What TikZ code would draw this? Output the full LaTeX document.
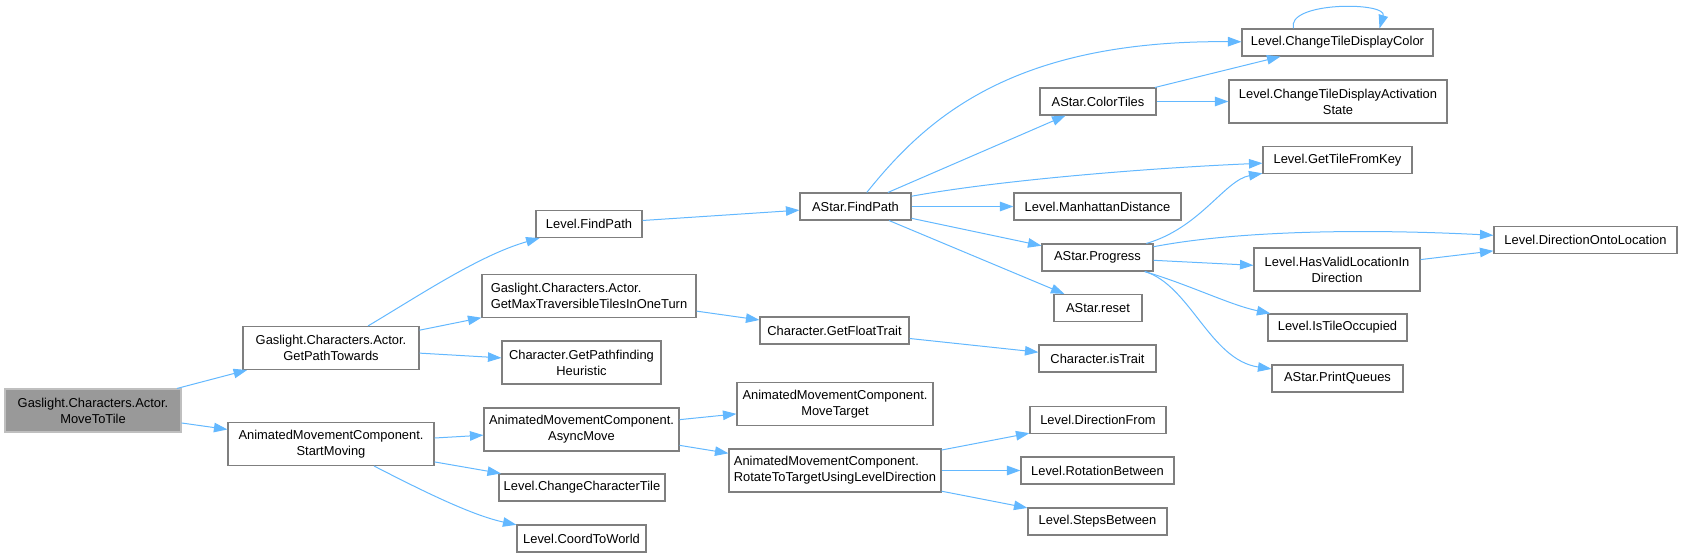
\documentclass[tikz,border=0pt]{standalone}
\usepackage{fontspec}
\setmainfont{Liberation Sans}
\usepackage{xcolor}
\usepackage{tikz}
\usetikzlibrary{arrows.meta}

\definecolor{edgeblue}{HTML}{63B8FF}
\definecolor{boxgray}{HTML}{7F7F7F}
\definecolor{rootfill}{HTML}{999999}
\definecolor{rootdraw}{HTML}{BFBFBF}

\begin{document}
\begin{tikzpicture}[x=1pt,y=-1pt,
  box/.style={draw=boxgray,fill=white,rectangle,line width=1.1pt,inner sep=0pt,minimum height=27pt,font=\fontsize{12.9}{16}\selectfont,align=center},
  tall/.style={box,minimum height=43pt},
  root/.style={tall,fill=rootfill,draw=rootdraw},
  arr/.style={-{Triangle[length=13.5pt,width=9.5pt]},line width=1pt,edgeblue}
]
\useasboundingbox (0,0) rectangle (1682,557);

% Caller
\node[root,minimum width=176pt] (movetotile) at (93,410.5) {Gaslight.Characters.Actor.\\MoveToTile};

% Second column
\node[tall,minimum width=176pt] (getpathtowards) at (331,348) {Gaslight.Characters.Actor.\\GetPathTowards};
\node[tall,minimum width=206pt] (startmoving) at (331,444) {AnimatedMovementComponent.\\StartMoving};

% Third column
\node[box,minimum width=106pt] (levelfindpath) at (589,224) {Level.FindPath};
\node[tall,minimum width=214pt,align=left] (getmaxtiles) at (589,296) {Gaslight.Characters.Actor.\\GetMaxTraversibleTilesInOneTurn};
\node[tall,minimum width=159pt] (pathheuristic) at (581.5,362.5) {Character.GetPathfinding\\Heuristic};
\node[tall,minimum width=195pt] (asyncmove) at (581.5,429.5) {AnimatedMovementComponent.\\AsyncMove};
\node[box,minimum width=166pt] (changechartile) at (582,487.5) {Level.ChangeCharacterTile};
\node[box,minimum width=129pt] (coordtoworld) at (581.5,538.5) {Level.CoordToWorld};

% Fourth column
\node[box,minimum width=111pt] (astarfindpath) at (855.5,206.5) {AStar.FindPath};
\node[box,minimum width=149pt] (getfloattrait) at (834.5,330.5) {Character.GetFloatTrait};
\node[tall,minimum width=196pt] (movetarget) at (835,404) {AnimatedMovementComponent.\\MoveTarget};
\node[tall,minimum width=212pt,align=left] (rotatetarget) at (835,470.5) {AnimatedMovementComponent.\\RotateToTargetUsingLevelDirection};

% Fifth column
\node[box,minimum width=116pt] (colortiles) at (1098,101.5) {AStar.ColorTiles};
\node[box,minimum width=167pt] (manhattan) at (1097.5,206.5) {Level.ManhattanDistance};
\node[box,minimum width=111pt] (progress) at (1097.5,257.5) {AStar.Progress};
\node[box,minimum width=88pt] (reset) at (1098,308) {AStar.reset};
\node[box,minimum width=117pt] (istrait) at (1097.5,358.5) {Character.isTrait};
\node[box,minimum width=136pt] (directionfrom) at (1098,420) {Level.DirectionFrom};
\node[box,minimum width=153pt] (rotationbetween) at (1097.5,470.5) {Level.RotationBetween};
\node[box,minimum width=139pt] (stepsbetween) at (1097.5,521.5) {Level.StepsBetween};

% Sixth column
\node[box,minimum width=191pt] (tilecolor) at (1337.5,42.5) {Level.ChangeTileDisplayColor};
\node[tall,minimum width=218pt] (activationstate) at (1338,101.5) {Level.ChangeTileDisplayActivation\\State};
\node[box,minimum width=149pt] (tilefromkey) at (1337.5,160) {Level.GetTileFromKey};
\node[tall,minimum width=166pt] (hasvalid) at (1337,269.5) {Level.HasValidLocationIn\\Direction};
\node[box,minimum width=139pt] (tileoccupied) at (1337.5,327.5) {Level.IsTileOccupied};
\node[box,minimum width=131pt] (printqueues) at (1337.5,378.5) {AStar.PrintQueues};

% Last column
\node[box,minimum width=183pt] (ontolocation) at (1585.5,240) {Level.DirectionOntoLocation};

% Calls
\draw[arr] (movetotile) -- (getpathtowards);
\draw[arr] (movetotile) -- (startmoving);

\draw[arr] (getpathtowards) .. controls (420,295) and (480,255) .. (levelfindpath);
\draw[arr] (getpathtowards) -- (getmaxtiles);
\draw[arr] (getpathtowards) -- (pathheuristic);

\draw[arr] (startmoving) -- (asyncmove);
\draw[arr] (startmoving) -- (changechartile);
\draw[arr] (startmoving) .. controls (415,487) and (470,515) .. (coordtoworld);

\draw[arr] (levelfindpath) -- (astarfindpath);
\draw[arr] (getmaxtiles) -- (getfloattrait);
\draw[arr] (getfloattrait) -- (istrait);

\draw[arr] (asyncmove) -- (movetarget);
\draw[arr] (asyncmove) -- (rotatetarget);
\draw[arr] (rotatetarget) -- (directionfrom);
\draw[arr] (rotatetarget) -- (rotationbetween);
\draw[arr] (rotatetarget) -- (stepsbetween);

\draw[arr] (astarfindpath) .. controls (925,120) and (1010,40) .. (tilecolor);
\draw[arr] (astarfindpath) -- (colortiles);
\draw[arr] (astarfindpath) .. controls (1000,180) and (1150,168) .. (tilefromkey);
\draw[arr] (astarfindpath) -- (manhattan);
\draw[arr] (astarfindpath) -- (progress);
\draw[arr] (astarfindpath) -- (reset);

\draw[arr] (colortiles) -- (tilecolor);
\draw[arr] (colortiles) -- (activationstate);
\draw[arr] ([xshift=-44pt]tilecolor.north) .. controls +(-8,-27) and +(8,-27) .. ([xshift=42pt]tilecolor.north);

\draw[arr] (progress) .. controls (1200,228) and (1225,180) .. (tilefromkey);
\draw[arr] (progress) .. controls (1230,232) and (1350,228) .. (ontolocation);
\draw[arr] (progress) -- (hasvalid);
\draw[arr] (progress) .. controls (1190,285) and (1230,305) .. (tileoccupied);
\draw[arr] (progress) .. controls (1190,285) and (1210,360) .. (printqueues);
\draw[arr] (hasvalid) -- (ontolocation);

\end{tikzpicture}
\end{document}
